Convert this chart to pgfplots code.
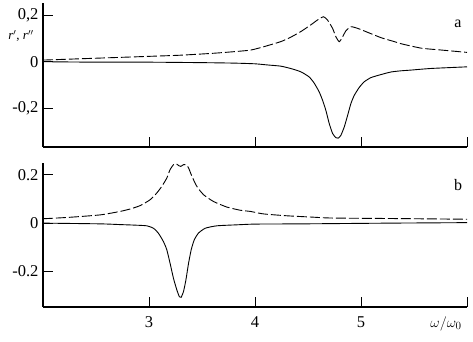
\documentclass[border=0pt]{standalone}
\usepackage{fontspec}
\setmainfont{Liberation Serif}
\usepackage{pgfplots}
\pgfplotsset{compat=1.18}
\begin{document}
\begin{tikzpicture}
\path[use as bounding box] (0pt,0pt) rectangle (473pt,342pt);
\pgfplotsset{
  myax/.style={
    scale only axis, width=424pt, height=144pt,
    anchor=south west,
    xmin=2, xmax=6,
    axis x line*=bottom, axis y line*=left,
    axis line style={line width=1.6pt,-},
    tick align=inside, major tick length=10pt,
    every tick/.style={line width=0.8pt, black},
    xtick={2,3,4,5,6},
    ytick={-0.2,0,0.2},
    tick label style={font=\fontsize{16.5}{18}\selectfont},
    xticklabel style={yshift=-6pt},
    yticklabel style={xshift=-1pt},
    clip=false,
  },
  rp/.style={black, line width=0.9pt, smooth, tension=0.35},
  rpp/.style={black, line width=0.9pt, smooth, tension=0.35, dash pattern=on 10pt off 3pt},
}
% top panel (a)
\begin{axis}[myax, at={(43pt,195pt)}, ymin=-0.366, ymax=0.252,
  xticklabels={}, yticklabels={{-0,2},{0},{0,2}}]
\addplot[rp] coordinates {
(2.0,0.0) (2.5,-0.002) (3.0,-0.002) (3.5,-0.004) (3.8,-0.006) (4.0,-0.009)
(4.12,-0.014) (4.242,-0.019) (4.336,-0.029) (4.431,-0.043) (4.510,-0.065)
(4.557,-0.091) (4.605,-0.129) (4.637,-0.165) (4.668,-0.208) (4.700,-0.265)
(4.732,-0.308) (4.763,-0.326) (4.785,-0.328) (4.810,-0.316) (4.842,-0.280)
(4.874,-0.230) (4.905,-0.179) (4.937,-0.144) (4.984,-0.110) (5.031,-0.086)
(5.095,-0.068) (5.190,-0.055) (5.284,-0.044) (5.379,-0.039) (5.47,-0.036)
(5.66,-0.029) (6.0,-0.022)
};
\addplot[rpp] coordinates {
(2.0,0.007) (2.5,0.015) (3.0,0.023) (3.3,0.028) (3.6,0.036) (3.8,0.043)
(3.96,0.050) (4.08,0.064) (4.242,0.086) (4.336,0.105) (4.431,0.129)
(4.526,0.158) (4.589,0.179) (4.646,0.193) (4.684,0.179) (4.732,0.143)
(4.763,0.107) (4.795,0.086) (4.827,0.107) (4.858,0.133) (4.905,0.150)
(4.969,0.143) (5.063,0.126) (5.190,0.103) (5.316,0.086) (5.379,0.077)
(5.57,0.058) (5.76,0.050) (6.0,0.040)
};
\end{axis}
% bottom panel (b)
\begin{axis}[myax, at={(43pt,35pt)}, ymin=-0.346, ymax=0.248,
  xticklabels={,3,4,5,}, yticklabels={{-0.2},{0},{0.2}}]
\addplot[rp] coordinates {
(2.0,0.0) (2.54,-0.003) (2.725,-0.006) (2.85,-0.008) (2.978,-0.011)
(3.041,-0.021) (3.088,-0.041) (3.136,-0.076) (3.168,-0.110) (3.199,-0.166)
(3.231,-0.228) (3.263,-0.276) (3.287,-0.304) (3.303,-0.306) (3.325,-0.283)
(3.348,-0.235) (3.373,-0.166) (3.398,-0.110) (3.427,-0.069) (3.467,-0.041)
(3.531,-0.021) (3.642,-0.011) (3.831,-0.007) (4.0,-0.004) (4.46,-0.003)
(5.28,0.0) (6.0,0.002)
};
\addplot[rpp] coordinates {
(2.0,0.018) (2.25,0.024) (2.54,0.034) (2.725,0.048) (2.82,0.058)
(2.915,0.072) (3.009,0.096) (3.073,0.124) (3.120,0.151) (3.168,0.186)
(3.199,0.221) (3.231,0.241) (3.256,0.245) (3.281,0.237) (3.300,0.234)
(3.325,0.241) (3.351,0.241) (3.373,0.228) (3.405,0.193) (3.452,0.151)
(3.515,0.117) (3.609,0.089) (3.736,0.066) (3.863,0.053) (3.96,0.048)
(4.08,0.038) (4.31,0.030) (4.53,0.025) (4.72,0.021) (5.28,0.019) (6.0,0.016)
};
\end{axis}
\node[font=\fontsize{16}{18}\selectfont] at (458pt,318pt) {a};
\node[font=\fontsize{16}{18}\selectfont] at (458pt,157pt) {b};
\node[font=\fontsize{13}{15}\selectfont, inner sep=0pt] at (21pt,306pt) {\textit{r}$'$, \textit{r}$''$};
\node[font=\fontsize{15}{17}\selectfont] at (446pt,18pt) {$\omega/\omega_0$};
\end{tikzpicture}
\end{document}
